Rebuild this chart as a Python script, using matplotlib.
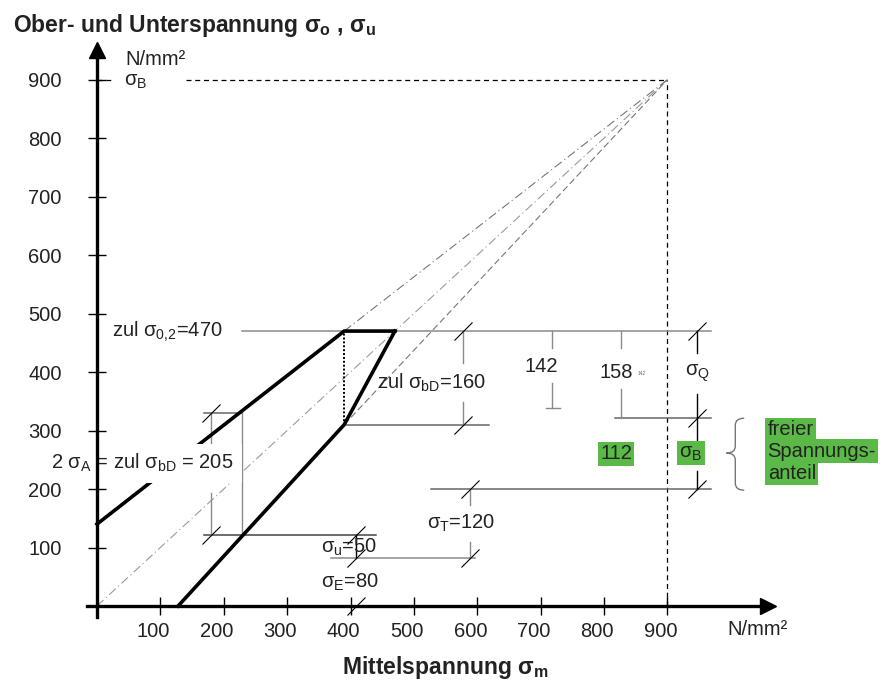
import matplotlib
matplotlib.use('Agg')
import matplotlib.pyplot as plt
from matplotlib.path import Path
from matplotlib.patches import PathPatch
from matplotlib.transforms import ScaledTranslation

plt.rcParams['font.family'] = ['Liberation Sans', 'DejaVu Sans']
plt.rcParams['mathtext.fontset'] = 'custom'
plt.rcParams['mathtext.rm'] = 'Liberation Sans'
plt.rcParams['mathtext.it'] = 'Liberation Sans'
plt.rcParams['mathtext.bf'] = 'Liberation Sans:bold'
plt.rcParams['mathtext.default'] = 'regular'

# axis ticks (N/mm²)
x_ticks = [100, 200, 300, 400, 500, 600, 700, 800, 900]
y_ticks = [100, 200, 300, 400, 500, 600, 700, 800, 900]

# material / limit values (N/mm²)
sigma_B = 900
sigma_02 = 470
sigma_bD_low = 310      # lower corner at sigma_m = 390
sigma_m_corner = 390
upper_x = [0, 390, 470]
upper_y = [140, 470, 470]
lower_x = [470, 390, 128]
lower_y = [470, 310, 0]

# dimension levels
lvl_Q = 321
lvl_T = 200
lvl_E = 82
lvl_u = 121
lvl_A = 330

TXT = '#222222'
GREY = '#8a8a8a'
GREEN = '#5bb947'
FS = 14.5

fig = plt.figure(figsize=(8.83, 6.8), dpi=100)
ax = fig.add_axes([0, 0, 1, 1])
ax.set_xlim(-153, 1240)
ax.set_ylim(-126.5, 1036)
ax.patch.set_visible(False)

for s in ['top', 'right']:
    ax.spines[s].set_visible(False)
for s in ['left', 'bottom']:
    ax.spines[s].set_position(('data', 0))
    ax.spines[s].set_linewidth(2.4)
ax.spines['left'].set_bounds(-18, 945)
ax.spines['bottom'].set_bounds(-15, 1050)
ax.spines['left'].set_zorder(6)
ax.spines['bottom'].set_zorder(6)

# arrow heads
ax.plot([0], [950], marker='^', ms=11, color='k', clip_on=False, zorder=6)
ax.plot([1058], [0], marker='>', ms=11, color='k', clip_on=False, zorder=6)

ax.set_xticks(x_ticks)
ax.set_yticks(y_ticks)
ax.tick_params(direction='inout', length=13, width=1.0, labelsize=FS,
               colors='black', labelcolor=TXT)
ax.tick_params(axis='y', pad=19)
ax.tick_params(axis='x', pad=5)
# the x labels sit a little left of their ticks in the original
shift = ScaledTranslation(-7 / 100, 0, fig.dpi_scale_trans)
for tick in ax.xaxis.get_major_ticks():
    tick.label1.set_transform(tick.label1.get_transform() + shift)

# axis titles
fig.text(13 / 883, 1 - 32 / 680, r'Ober- und Unterspannung $\sigma_o$ , $\sigma_u$',
         fontsize=16.5, fontweight='bold', color=TXT, va='baseline')
ax.text(45, 935, 'N/mm²', fontsize=FS, color=TXT, ha='left', va='center')
ax.text(994, -40, 'N/mm²', fontsize=FS, color=TXT, ha='left', va='center')
ax.text(549, -105, r'Mittelspannung $\sigma_m$', fontsize=16.5, fontweight='bold',
        color=TXT, ha='center', va='center')

# sigma_B lines
ax.plot([0, 25], [sigma_B, sigma_B], color='k', lw=0.9, ls=(0, (4, 3)))
ax.plot([140, sigma_B], [sigma_B, sigma_B], color='k', lw=0.9, ls=(0, (4, 3)))
ax.plot([sigma_B, sigma_B], [0, sigma_B], color='k', lw=0.9, ls=(0, (4, 3)))
ax.text(43, 897, r'$\sigma_B$', fontsize=FS, color=TXT, ha='left', va='center')

# rays to sigma_B
ax.plot([0, sigma_B], [0, sigma_B], color='#9a9a9a', lw=0.8, ls=(0, (8, 3, 1, 3)))
ax.plot([upper_x[1], sigma_B], [upper_y[1], sigma_B], color='#777777', lw=0.8,
        ls=(0, (8, 3, 1, 3)))
ax.plot([lower_x[1], sigma_B], [lower_y[1], sigma_B], color='#777777', lw=0.8,
        ls=(0, (6, 3)))

# limit lines
ax.plot(upper_x, upper_y, color='k', lw=2.6, solid_joinstyle='miter', zorder=3)
ax.plot(lower_x, lower_y, color='k', lw=2.6, solid_joinstyle='miter', zorder=3)
ax.plot([sigma_m_corner, sigma_m_corner], [sigma_bD_low, sigma_02], color='k',
        lw=1.4, ls=(0, (1, 1)), zorder=3)

# reference lines
ax.plot([229, 968], [sigma_02, sigma_02], color=GREY, lw=1.1)
ax.plot([sigma_m_corner, 618], [sigma_bD_low, sigma_bD_low], color='#666666', lw=1.1)
ax.plot([817, 968], [lvl_Q, lvl_Q], color='#666666', lw=1.1)
ax.plot([527, 968], [lvl_T, lvl_T], color='#666666', lw=1.1)
ax.plot([369, 597], [lvl_E, lvl_E], color=GREY, lw=1.1)
ax.plot([169, 440], [lvl_u, lvl_u], color='#444444', lw=1.1)
ax.plot([169, 229], [lvl_A, lvl_A], color='#666666', lw=1.1)
ax.plot([229, 229], [lvl_u, 335], color=GREY, lw=1.0)

# dimension lines (with gaps for labels)
dims = [
    (578, [(470, 415), (349, 310)], GREY),
    (718, [(470, 441), (381, 338)], GREY),
    (827, [(470, 441), (371, lvl_Q)], GREY),
    (947, [(470, 432), (362, lvl_Q)], 'k'),
    (947, [(lvl_Q, 284), (231, lvl_T)], 'k'),
    (588, [(lvl_T, 172), (109, lvl_E)], GREY),
    (408, [(lvl_u, lvl_E)], 'k'),
    (180, [(lvl_A, 272), (193, lvl_u)], GREY),
]
for x, segs, c in dims:
    for y0, y1 in segs:
        ax.plot([x, x], [y0, y1], color=c, lw=1.0)
ax.plot([708, 730], [338, 338], color=GREY, lw=1.0)

slash = [(-1, -1), (1, 1)]
sx = [578, 578, 947, 947, 947, 588, 588, 408, 408, 180, 180, 408]
sy = [470, 310, 470, lvl_Q, lvl_T, lvl_T, lvl_E, lvl_u, lvl_E, lvl_A, lvl_u, 0]
ax.plot(sx, sy, ls='none', marker=slash, ms=13, mec='k', mew=0.8, zorder=4)

# labels
ax.text(24, 468, r'zul $\sigma_{0{,}2}$=470', fontsize=FS, color=TXT, va='center')
ax.text(442, 381, r'zul $\sigma_{bD}$=160', fontsize=FS, color=TXT, va='center')
ax.text(521, 142, r'$\sigma_T$=120', fontsize=FS, color=TXT, va='center')
ax.text(354, 101, r'$\sigma_u$=50', fontsize=FS, color=TXT, va='center', zorder=3)
ax.text(354, 41, r'$\sigma_E$=80', fontsize=FS, color=TXT, va='center')
ax.text(701, 409, '142', fontsize=FS, color=TXT, ha='center', va='center')
ax.text(819, 400, '158', fontsize=FS, color=TXT, ha='center', va='center')
ax.text(859, 398, '142', fontsize=3.5, color='#666666', ha='center', va='center')
ax.text(947, 398, r'$\sigma_Q$', fontsize=FS, color=TXT, ha='center', va='center')
ax.text(72, 244, r'2 $\sigma_A$ = zul $\sigma_{bD}$ = 205', fontsize=FS, color=TXT,
        ha='center', va='center', zorder=5,
        bbox=dict(boxstyle='square,pad=0.42', fc='white', ec='none'))

gbox = dict(boxstyle='square,pad=0.12', fc=GREEN, ec='none')
ax.text(819, 260, '112', fontsize=FS, color=TXT, ha='center', va='center', bbox=gbox)
ax.text(937, 261, r'$\sigma_B$', fontsize=FS, color=TXT, ha='center', va='center',
        bbox=gbox)
for word, yb in [('freier', 292), ('Spannungs-', 255), ('anteil', 217)]:
    ax.text(1058, yb, word, fontsize=FS, color=TXT, ha='left', va='baseline', bbox=gbox)

# brace
xr, xt = 1021, 993
xm = (xr + xt) / 2
yt, yb, ym = 321, 198, 261.5
verts = [(xr, yt), (xm, yt), (xm, yt - 12), (xm, ym + 12), (xm, ym), (xt, ym),
         (xm, ym), (xm, ym - 12), (xm, yb + 12), (xm, yb), (xr, yb)]
codes = [Path.MOVETO, Path.CURVE3, Path.CURVE3, Path.LINETO, Path.CURVE3, Path.CURVE3,
         Path.CURVE3, Path.CURVE3, Path.LINETO, Path.CURVE3, Path.CURVE3]
ax.add_patch(PathPatch(Path(verts, codes), fc='none', ec='#777777', lw=1.0))

fig.savefig('out.png', dpi=100, facecolor='white')
